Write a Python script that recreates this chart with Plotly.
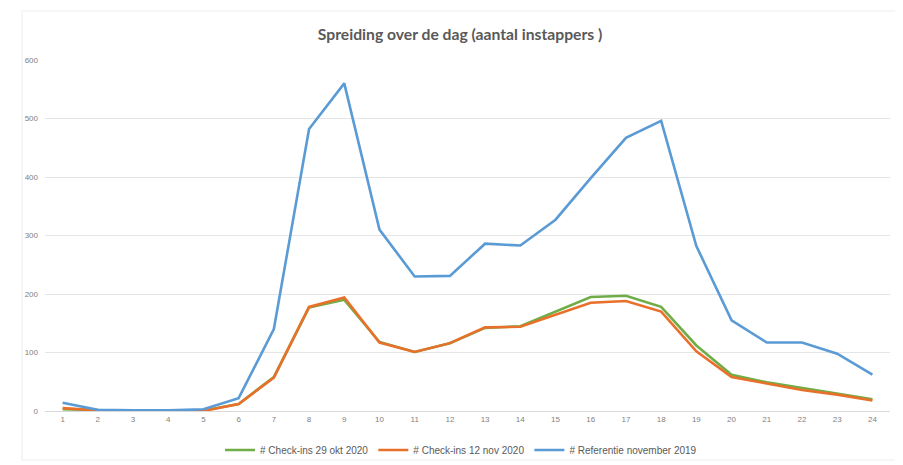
import plotly.graph_objects as go

hours = list(range(1, 25))
checkins_29okt = [3, 1, 0, 0, 1, 12, 58, 177, 190, 118, 101, 116, 142, 145, 170, 195, 197, 178, 112, 62, 49, 39, 30, 20]
checkins_12nov = [5, 1, 0, 0, 0, 12, 57, 178, 194, 117, 101, 116, 143, 144, 164, 185, 188, 170, 102, 58, 47, 36, 28, 18]
referentie_2019 = [14, 2, 1, 1, 3, 22, 140, 482, 560, 310, 230, 231, 286, 283, 327, 398, 467, 496, 282, 155, 117, 117, 98, 62]

names = ["# Check-ins 29 okt 2020", "# Check-ins 12 nov 2020", "# Referentie november 2019"]
colors = ["#70AD47", "#E8702A", "#5B9BD5"]

fig = go.Figure()
for name, vals, col in zip(names, [checkins_29okt, checkins_12nov, referentie_2019], colors):
    fig.add_trace(go.Scatter(x=hours, y=vals, mode="lines", name=name,
                             line=dict(color=col, width=2.6)))

fig.update_layout(
    width=903, height=465,
    margin=dict(l=37, r=21, t=52, b=62),
    paper_bgcolor="white", plot_bgcolor="white",
    font=dict(family="Liberation Sans, sans-serif", color="#595959"),
    title=dict(text="Spreiding over de dag (aantal instappers )", x=0.5006, xanchor="center",
               y=0.942, yanchor="middle",
               font=dict(size=15.7, color="#595959", family="Lato, sans-serif", weight="bold")),
    showlegend=True,
    legend=dict(orientation="h", xref="container", yref="container", x=0.5017, xanchor="center",
                y=0.0495, yanchor="middle",
                font=dict(size=10, color="#595959"), itemwidth=30, bgcolor="rgba(0,0,0,0)"),
    xaxis=dict(tickmode="array", tickvals=hours, ticktext=[str(h) for h in hours],
               range=[0.5, 24.5], showgrid=False, showline=True, linecolor="#D9D9D9",
               ticks="", tickfont=dict(size=8, color="#7F7F7F"), zeroline=False, automargin=False),
    yaxis=dict(range=[0, 600], tickvals=[0, 100, 200, 300, 400, 500, 600], showgrid=True,
               gridcolor="#E5E5E5", gridwidth=1, zeroline=False, showline=False,
               ticks="", tickfont=dict(size=8, color="#7F7F7F"), ticklabelstandoff=6, automargin=False),
    shapes=[dict(type="rect", xref="paper", yref="paper", x0=-0.0272, x1=1.0095, y0=-0.1396, y1=1.1396,
                 line=dict(color="#EDEDED", width=1), fillcolor="rgba(0,0,0,0)", layer="below")],
)

fig.write_html("out.html")
